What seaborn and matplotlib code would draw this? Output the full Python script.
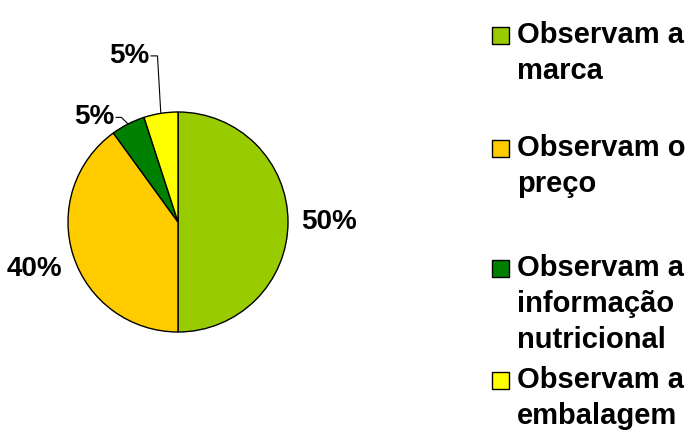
import matplotlib
matplotlib.use("Agg")
import matplotlib.pyplot as plt
import seaborn as sns
import numpy as np
from matplotlib.patches import Rectangle

# Survey answers: what consumers look at when buying
categories = ["Observam a\nmarca", "Observam o\npreço", "Observam a\ninformação\nnutricional", "Observam a\nembalagem"]
shares = [50, 40, 5, 5]
colors = ["#99CC00", "#FFCC00", "#008000", "#FFFF00"]

sns.set_theme(style="white")
plt.rcParams["font.family"] = ["Liberation Sans", "DejaVu Sans"]
plt.rcParams["text.color"] = "black"

W, H = 693, 432
fig = plt.figure(figsize=(W / 100, H / 100), dpi=100)
fig.patch.set_facecolor("white")

# Pie axes: centre (178, 222) px, radius 110 px
cx, cy, r = 178, 222, 110
ax = fig.add_axes([(cx - r) / W, (H - cy - r) / H, 2 * r / W, 2 * r / H])
wedges, _ = ax.pie(shares, colors=colors, startangle=90, counterclock=False,
                   radius=1.0, wedgeprops=dict(edgecolor="black", linewidth=1.0))
ax.set_xlim(-1, 1)
ax.set_ylim(-1, 1)
ax.set_aspect("equal")
ax.axis("off")

fs = 20
# Percentage labels for the two large slices
for i in (0, 1):
    w = wedges[i]
    mid = np.deg2rad((w.theta1 + w.theta2) / 2)
    ax.text(1.37 * np.cos(mid), 1.37 * np.sin(mid), f"{shares[i]}%",
            ha="center", va="center", fontsize=fs, fontweight="bold",
            color="black", clip_on=False)

# Small slices with leader lines
w2, w3 = wedges[2], wedges[3]
m2 = np.deg2rad((w2.theta1 + w2.theta2) / 2)
e2 = (np.cos(m2), np.sin(m2))
ax.plot([e2[0], e2[0] - 0.06, e2[0] - 0.11], [e2[1], e2[1] + 0.06, e2[1] + 0.06],
        color="black", lw=0.8, clip_on=False)
ax.text(e2[0] - 0.12, e2[1] + 0.06, f"{shares[2]}%", ha="right", va="center",
        fontsize=fs, fontweight="bold", color="black", clip_on=False)

m3 = np.deg2rad((w3.theta1 + w3.theta2) / 2)
e3 = (np.cos(m3), np.sin(m3))
ax.plot([e3[0], e3[0] - 0.03, e3[0] - 0.09], [e3[1], 1.51, 1.51],
        color="black", lw=0.8, clip_on=False)
ax.text(e3[0] - 0.10, 1.51, f"{shares[3]}%", ha="right", va="center",
        fontsize=fs, fontweight="bold", color="black", clip_on=False)

# Legend drawn in pixel coordinates on an overlay
lax = fig.add_axes([0, 0, 1, 1], facecolor="none")
lax.set_xlim(0, W)
lax.set_ylim(H, 0)
lax.axis("off")
rows_y = [35, 148, 268, 380]
for lab, col, y in zip(categories, colors, rows_y):
    lax.add_patch(Rectangle((492, y - 8.5), 17, 17, facecolor=col, edgecolor="black", lw=1.0))
    lax.text(517, y - 14, lab, ha="left", va="top", fontsize=21, fontweight="bold",
             color="black", linespacing=1.36)

fig.savefig("out.png", dpi=100)
